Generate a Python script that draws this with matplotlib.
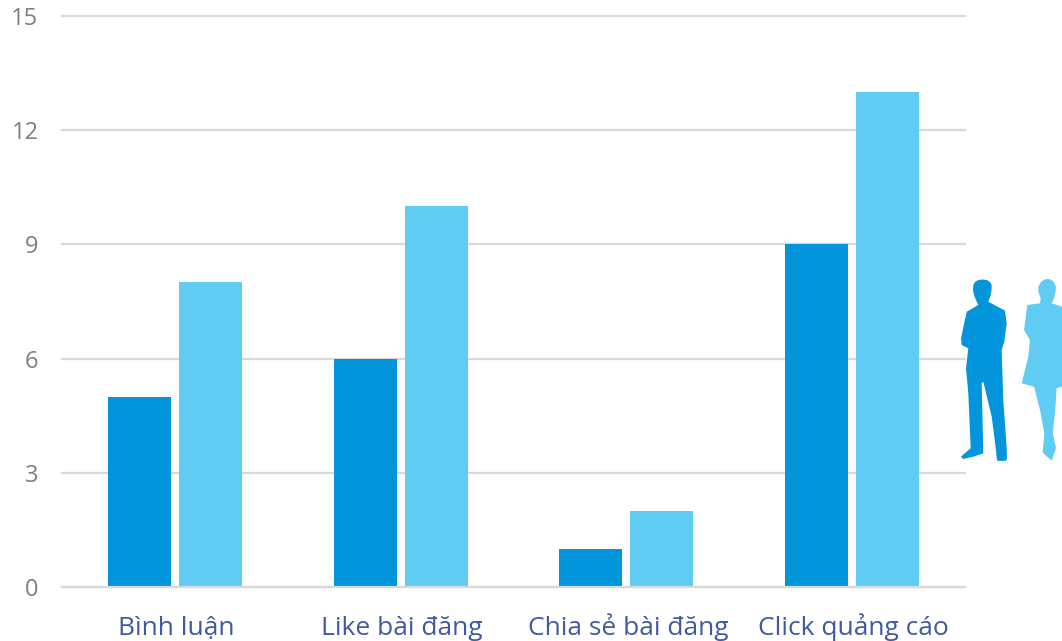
import matplotlib

matplotlib.use("Agg")
import matplotlib.pyplot as plt
from matplotlib.patches import Polygon
from matplotlib.transforms import ScaledTranslation

plt.rcParams["font.family"] = ["Open Sans", "Noto Sans", "DejaVu Sans"]

categories = ["Bình luận", "Like bài đăng", "Chia sẻ bài đăng", "Click quảng cáo"]
male = [5, 6, 1, 9]
female = [8, 10, 2, 13]
y_ticks = [0, 3, 6, 9, 12, 15]

DARK = "#0395db"
LIGHT = "#60ccf3"
GRID = "#d9d9d9"
W, H = 1062, 641

fig = plt.figure(figsize=(W / 100, H / 100), dpi=100)
ax = fig.add_axes([62 / W, 1 - 587 / H, (965 - 62) / W, (587 - 16) / H])

bar_w = 63 / 225.75
gap = 8 / 225.75
for i, (m, f) in enumerate(zip(male, female)):
    ax.bar(i - (bar_w + gap) / 2, m, bar_w, color=DARK, zorder=3)
    ax.bar(i + (bar_w + gap) / 2, f, bar_w, color=LIGHT, zorder=3)

ax.set_xlim(-0.5, 3.5)
ax.set_ylim(0, 15)
ax.set_yticks(y_ticks)
ax.set_xticks(range(len(categories)))
# baseline alignment keeps the labels level despite the stacked diacritics
ax.set_xticklabels(categories, fontsize=19, color="#3f5a9e", va="baseline")
ax.tick_params(axis="x", length=0, pad=34.5)
ax.tick_params(axis="y", length=0, pad=17, labelsize=17, labelcolor="#7f7f7f")
nudge = ScaledTranslation(1.5 / 100, 0, fig.dpi_scale_trans)
for label in ax.get_xticklabels():
    label.set_transform(label.get_transform() + nudge)
ax.grid(axis="y", color=GRID, linewidth=1.6, zorder=0, clip_on=False)
ax.set_axisbelow(True)
for spine in ax.spines.values():
    spine.set_visible(False)
ax.axhline(0, color=GRID, linewidth=1.6, zorder=4, clip_on=False)


def add_person(points, color):
    # silhouettes sit in pixel positions, off to the right of the axes
    scaled = [(x / W, 1 - y / H) for x, y in points]
    fig.add_artist(Polygon(scaled, closed=True, color=color, transform=fig.transFigure, lw=0))


man = [(973.3, 285), (975, 282), (978.3, 280), (982, 279.5), (986.7, 280), (990, 282), (991.7, 285),
       (991.5, 290), (990.7, 295), (988.3, 301.7),
       (1005, 310.7), (1006.7, 323.3), (1004.3, 341.7), (1001.7, 350), (1002.3, 370), (1003.3, 400),
       (1006.7, 448.3), (1007, 458), (1006, 460.7), (997.5, 461), (996.7, 458), (996, 450),
       (991.7, 416.7), (983.3, 381.7),
       (981.7, 383.3), (983.3, 453.3), (973.3, 456.7), (963, 459), (961, 456.5), (970.7, 448.3),
       (968.3, 393.3), (966, 368.3), (968.3, 348.3), (961.7, 345), (961, 338.3), (966.7, 311.7),
       (978.3, 305), (976.7, 301.7), (974, 295), (973, 290)]
woman = [(1038.3, 286.7), (1041, 282), (1045, 279.3), (1049, 279), (1053, 281), (1056, 286.7),
         (1055.5, 292), (1054, 298.3), (1051.7, 303.3),
         (1062, 306.7), (1062, 386.7), (1056.7, 388), (1055, 413), (1052.7, 433), (1056, 448.3),
         (1051.7, 460.7), (1042.7, 452.7), (1044.3, 433.3), (1040, 410), (1034, 386.7), (1021.7, 383.3),
         (1028.3, 356.7), (1030, 340), (1024, 330), (1027.3, 305), (1040, 303.3), (1040.7, 298.3),
         (1038.3, 291.7)]
add_person(man, DARK)
add_person(woman, LIGHT)

fig.savefig("out.png", dpi=100)
plt.close(fig)
